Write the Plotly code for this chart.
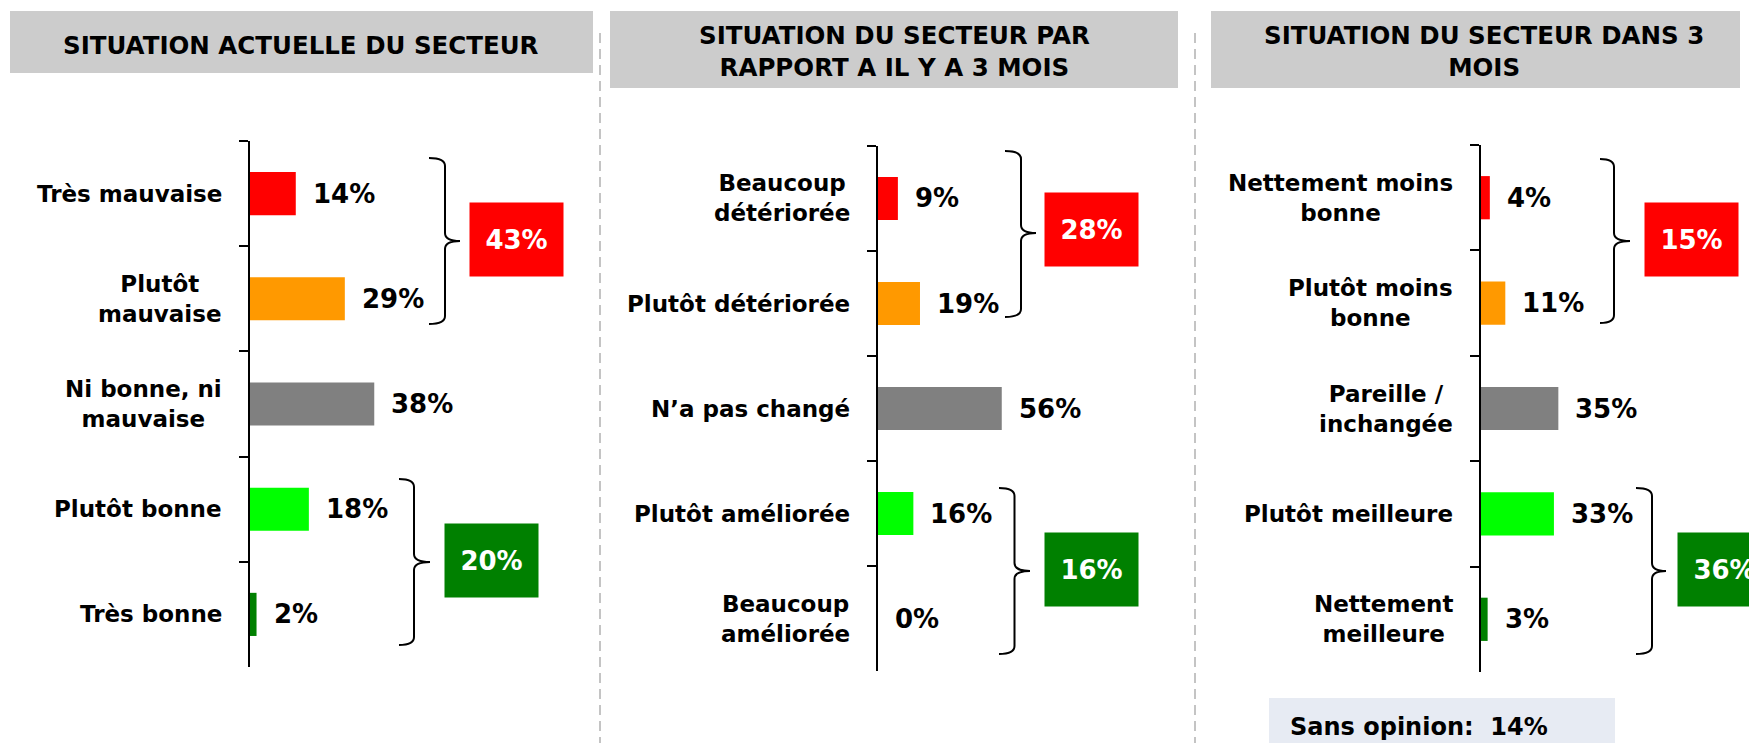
import plotly.graph_objects as go

W, H = 1749, 743

# ---------------- data ----------------
titles = [
    "SITUATION ACTUELLE DU SECTEUR",
    "SITUATION DU SECTEUR PAR<br>RAPPORT A IL Y A 3 MOIS",
    "SITUATION DU SECTEUR DANS 3<br>MOIS",
]
cats_1 = ["Très mauvaise", "Plutôt<br>mauvaise", "Ni bonne, ni<br>mauvaise", "Plutôt bonne", "Très bonne"]
vals_1 = [14, 29, 38, 18, 2]
cats_2 = ["Beaucoup<br>détériorée", "Plutôt détériorée", "N’a pas changé", "Plutôt améliorée", "Beaucoup<br>améliorée"]
vals_2 = [9, 19, 56, 16, 0]
cats_3 = ["Nettement moins<br>bonne", "Plutôt moins<br>bonne", "Pareille /<br>inchangée", "Plutôt meilleure", "Nettement<br>meilleure"]
vals_3 = [4, 11, 35, 33, 3]
neg_totals = [43, 28, 15]
pos_totals = [20, 16, 36]
sans_opinion_3 = 14

bar_colors = ["#FF0000", "#FF9900", "#808080", "#00FF00", "#008000"]
NEG_BOX = "#FF0000"
POS_BOX = "#008000"
FONT = "DejaVu Sans"


def px(x):
    return x / W


def py(y):
    return 1 - y / H


# panel geometry in pixels (style)
panels = [
    dict(x0=250, ppp=3.27, ytop=141, ybot=667,
         neg_br=(429, 445, 460, 158, 324, 241), neg_box=(516, 239.5),
         pos_br=(399, 414, 430, 479, 645, 562), pos_box=(491, 560),
         title=(301, 45), tbox=(10, 11, 593, 73)),
    dict(x0=878, ppp=2.21, ytop=146, ybot=671,
         neg_br=(1005, 1021, 1036, 151, 317, 233), neg_box=(1091, 229.5),
         pos_br=(999, 1014.5, 1030, 488, 654, 571), pos_box=(1091, 569),
         title=(894, 52), tbox=(610, 11, 1178, 88)),
    dict(x0=1481, ppp=2.21, ytop=145, ybot=672,
         neg_br=(1600, 1614, 1630, 159, 323, 241), neg_box=(1691, 239.5),
         pos_br=(1636, 1652, 1666, 488, 654, 571), pos_box=(1724, 569),
         title=(1484, 52), tbox=(1211, 11, 1740, 88)),
]

all_cats = [cats_1, cats_2, cats_3]
all_vals = [vals_1, vals_2, vals_3]

fig = go.Figure()
shapes = []
annotations = []

for i, (p, cats, vals) in enumerate(zip(panels, all_cats, all_vals)):
    n = "" if i == 0 else str(i + 1)
    xa, ya = "x" + n, "y" + n
    fig.add_trace(go.Bar(
        x=vals, y=cats, orientation="h", width=0.41,
        marker=dict(color=bar_colors, line=dict(width=0)),
        xaxis=xa, yaxis=ya, showlegend=False, hoverinfo="skip",
    ))
    xdom = [px(p["x0"]), px(p["x0"] + p["ppp"] * 100)]
    ydom = [py(p["ybot"]), py(p["ytop"])]
    fig.layout["xaxis" + n] = dict(
        domain=xdom, range=[0, 100], anchor=ya, visible=False, fixedrange=True)
    fig.layout["yaxis" + n] = dict(
        domain=ydom, anchor=xa, type="category", autorange="reversed",
        showline=True, linecolor="black", linewidth=2,
        ticks="outside", ticklen=9, tickwidth=2, tickcolor="black",
        tickson="boundaries", showticklabels=False, showgrid=False,
        zeroline=False, fixedrange=True)

    # category labels
    for c in cats:
        annotations.append(dict(
            x=0, xref=xa + " domain", y=c, yref=ya, text=c, showarrow=False,
            xanchor="right", yanchor="middle", align="center", xshift=-26,
            font=dict(family=FONT, size=23, color="black", weight="bold")))
    # value labels
    for c, v in zip(cats, vals):
        annotations.append(dict(
            x=v, xref=xa, y=c, yref=ya, text=f"{v}%", showarrow=False,
            xanchor="left", yanchor="middle", xshift=15,
            font=dict(family=FONT, size=26, color="black", weight="bold")))

    # title box + title
    bx0, by0, bx1, by1 = p["tbox"]
    shapes.append(dict(type="rect", xref="paper", yref="paper",
                       x0=px(bx0), x1=px(bx1), y0=py(by1), y1=py(by0),
                       fillcolor="#CCCCCC", line=dict(width=0), layer="below"))
    annotations.append(dict(
        x=px(p["title"][0]), y=py(p["title"][1]), xref="paper", yref="paper",
        text=titles[i], showarrow=False, xanchor="center", yanchor="middle",
        align="center", font=dict(family=FONT, size=24.5, color="black", weight="bold")))

    # brackets
    for key in ("neg_br", "pos_br"):
        xl, xline, xtip, yt, yb, ym = p[key]
        r = 8
        path = (f"M {px(xl)},{py(yt)} Q {px(xline)},{py(yt)} {px(xline)},{py(yt + r)} "
                f"L {px(xline)},{py(ym - r)} Q {px(xline)},{py(ym)} {px(xtip)},{py(ym)} "
                f"Q {px(xline)},{py(ym)} {px(xline)},{py(ym + r)} "
                f"L {px(xline)},{py(yb - r)} Q {px(xline)},{py(yb)} {px(xl)},{py(yb)}")
        shapes.append(dict(type="path", xref="paper", yref="paper", path=path,
                           line=dict(color="black", width=2)))

    # total boxes
    for key, tot, col in (("neg_box", neg_totals[i], NEG_BOX), ("pos_box", pos_totals[i], POS_BOX)):
        cx, cy = p[key]
        annotations.append(dict(
            x=px(cx), y=py(cy), xref="paper", yref="paper", text=f"{tot}%",
            showarrow=False, xanchor="center", yanchor="middle",
            width=93, height=73, bgcolor=col, borderpad=0,
            font=dict(family=FONT, size=26, color="white", weight="bold")))

# dashed separators
for sx in (600, 1195):
    shapes.append(dict(type="line", xref="paper", yref="paper",
                       x0=px(sx), x1=px(sx), y0=py(33), y1=0,
                       line=dict(color="#C4C4C4", width=2, dash="10px,6px")))

# "Sans opinion" box
shapes.append(dict(type="rect", xref="paper", yref="paper",
                   x0=px(1269), x1=px(1615), y0=py(760), y1=py(698),
                   fillcolor="#E7EBF3", line=dict(width=0), layer="below"))
annotations.append(dict(
    x=px(1288), y=py(727), xref="paper", yref="paper",
    text=f"Sans opinion:\u00a0\u00a0{sans_opinion_3}%", showarrow=False,
    xanchor="left", yanchor="middle",
    font=dict(family=FONT, size=24, color="black", weight="bold")))

fig.update_layout(
    width=W, height=H, margin=dict(l=0, r=0, t=0, b=0),
    paper_bgcolor="white", plot_bgcolor="rgba(0,0,0,0)",
    shapes=shapes, annotations=annotations, bargap=0.59,
)

fig.write_html(
    "out.html",
    config={"displayModeBar": False, "staticPlot": True},
    post_script="document.body.style.margin='0';document.body.style.padding='0';"
                "document.body.style.overflow='hidden';",
)
